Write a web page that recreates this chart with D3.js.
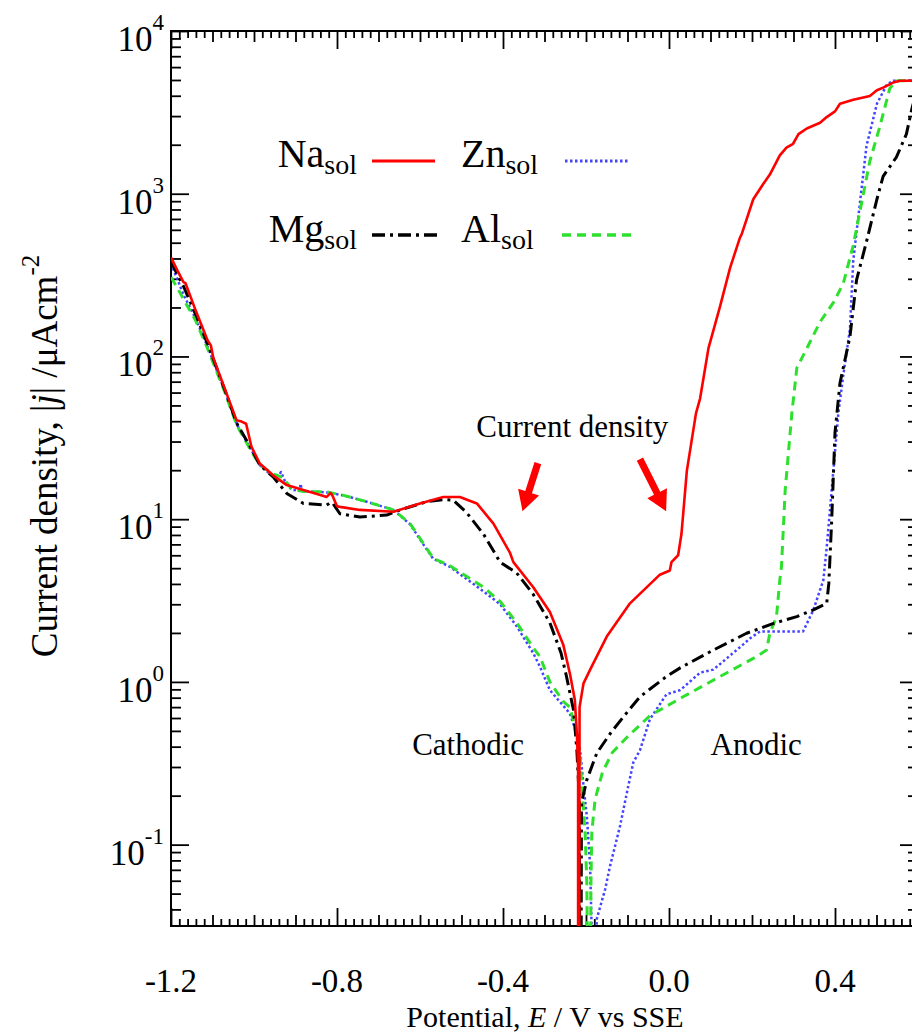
<!DOCTYPE html>
<html><head><meta charset="utf-8">
<script src="https://cdn.jsdelivr.net/npm/d3@7/dist/d3.min.js"></script>
<style>
body{margin:0;background:#fff}
text{font-family:"Liberation Serif","Times New Roman",serif;fill:#000}
</style>
</head><body>
<svg id="c" width="912" height="1035"></svg>
<script>
// ---- data: potential E (V vs SSE) and |j| (uA/cm2) ----
const naE = [-1.200,-1.185,-1.170,-1.165,-1.140,-1.112,-1.104,-1.098,-1.070,-1.042,-1.030,-1.019,-1.006,-0.986,-0.954,-0.921,-0.881,-0.840,-0.825,-0.815,-0.810,-0.800,-0.793,-0.745,-0.664,-0.600,-0.544,-0.504,-0.463,-0.423,-0.383,-0.375,-0.327,-0.287,-0.255,-0.239,-0.227,-0.222,-0.219,-0.219,
  -0.2165,-0.2155,-0.206,-0.190,-0.150,-0.094,-0.022,0.002,0.006,0.022,0.030,0.043,0.065,0.075,0.095,0.123,0.147,0.171,0.175,0.203,0.227,0.243,0.267,0.283,0.299,0.312,0.332,0.364,0.380,0.400,0.412,0.444,0.484,0.501,0.516,0.540,0.557,0.600];
const naJ = [406,339,286,282,190,126,117,98,63,40.5,39.8,38.6,27.8,22.0,18.6,16.2,15.1,14.1,13.7,14.5,13.8,12.0,11.9,11.4,11.1,12.5,13.7,13.7,12.5,9.4,6.2,5.45,3.82,2.69,1.70,1.13,0.78,0.48,0.3,0.01,
  0.01,0.70,0.98,1.19,1.90,3.04,4.56,4.84,5.45,6.0,8.1,19.8,44.7,55.3,112,203,349,538,562,925,1148,1312,1722,1919,2028,2323,2518,2729,2958,3206,3573,3776,3990,4325,4487,4819,4943,4943];

const mgE = [-1.200,-1.170,-1.140,-1.112,-1.070,-1.042,-1.006,-0.986,-0.954,-0.921,-0.881,-0.825,-0.815,-0.810,-0.793,-0.745,-0.680,-0.648,-0.584,-0.544,-0.520,-0.488,-0.447,-0.407,-0.367,-0.327,-0.287,-0.260,-0.247,-0.230,-0.222,-0.216,-0.215,
  -0.212,-0.211,-0.198,-0.174,-0.142,-0.110,-0.070,-0.006,0.027,0.075,0.107,0.187,0.252,0.308,0.348,0.380,0.385,0.392,0.400,0.412,0.436,0.452,0.476,0.501,0.516,0.548,0.572,0.586,0.600];
const mgJ = [380,270,180,120,62,39,27,21.5,18.2,14.4,12.5,12.2,12.7,12.5,10.8,10.3,10.6,11.4,12.8,13.2,13.1,11.0,8.1,5.45,4.67,3.45,2.31,1.5,1.08,0.67,0.38,0.19,0.01,
  0.01,0.18,0.25,0.365,0.48,0.61,0.81,1.08,1.22,1.42,1.57,1.99,2.29,2.52,2.77,3.04,4.0,9.8,34,68.7,132,296,509,925,1279,1679,2323,3388,4467];

const znE = [-1.200,-1.185,-1.170,-1.140,-1.112,-1.070,-1.042,-1.006,-0.986,-0.960,-0.940,-0.935,-0.925,-0.910,-0.890,-0.888,-0.884,-0.825,-0.784,-0.728,-0.664,-0.624,-0.592,-0.568,-0.528,-0.447,-0.407,-0.367,-0.327,-0.311,-0.287,-0.239,-0.222,-0.214,-0.206,-0.198,-0.190,-0.182,
  -0.178,-0.174,-0.154,-0.142,-0.118,-0.098,-0.086,-0.070,-0.046,-0.006,0.027,0.075,0.107,0.179,0.195,0.219,0.323,0.348,0.372,0.380,0.396,0.408,0.420,0.436,0.444,0.460,0.476,0.501,0.525,0.541,0.600];
const znJ = [372,300,240,170,115,61,38.5,26.5,21.5,18.8,18.6,19.5,17.0,15.2,14.9,16.5,14.9,14.6,14.0,12.8,11.4,9.3,7.0,5.7,5.1,3.6,3.0,2.2,1.5,1.24,0.89,0.64,0.48,0.38,0.23,0.15,0.074,0.01,
  0.01,0.035,0.053,0.074,0.13,0.23,0.32,0.38,0.59,0.84,0.89,1.14,1.19,1.70,1.85,2.04,2.04,2.77,4.23,6.7,19.8,44.7,76.7,147,389,875,1972,3573,4688,4943,4943];

const alE = [-1.200,-1.185,-1.170,-1.140,-1.112,-1.070,-1.042,-1.006,-0.986,-0.954,-0.930,-0.910,-0.881,-0.825,-0.784,-0.728,-0.664,-0.624,-0.592,-0.568,-0.528,-0.447,-0.407,-0.367,-0.327,-0.311,-0.287,-0.255,-0.239,-0.222,-0.214,-0.210,-0.202,-0.198,-0.195,
  -0.190,-0.188,-0.186,-0.178,-0.160,-0.136,-0.100,-0.046,0.034,0.123,0.211,0.235,0.243,0.259,0.267,0.271,0.280,0.288,0.296,0.308,0.332,0.364,0.396,0.420,0.444,0.464,0.484,0.508,0.532,0.548,0.600];
const alJ = [307,265,225,165,112,60,38,26,21.5,19.0,18.0,15.4,14.8,14.7,14.0,12.8,11.4,9.4,7.1,5.74,5.18,3.82,3.12,2.31,1.62,1.43,1.0,0.76,0.70,0.48,0.35,0.23,0.117,0.058,0.01,
  0.01,0.06,0.12,0.19,0.28,0.37,0.46,0.62,0.81,1.08,1.43,1.57,1.99,2.51,4.23,5.1,15.1,26,44.7,85,112,163,214,281,482,875,1589,2582,4436,4943,4943];

const seriesNames = ["Na","Mg","Zn","Al"];
const xMajorTicks = [-1.2,-0.8,-0.4,0.0,0.4];
const yMajorTicks = [0.1,1,10,100,1000,10000];
const yExponents = [-1,0,1,2,3,4];

// ---- scales ----
const svg = d3.select('#c');
const x = d3.scaleLinear().domain([-1.2,0.6]).range([171,918]);
const y = d3.scaleLog().domain([Math.pow(10,-1.5),1e4]).range([926,31]);

const idx = d3.range(-60,31);
const xMid = idx.filter(i=>i%5===0 && i%20!==0).map(i=>i/50);
const xMinor = idx.filter(i=>i%5!==0).map(i=>i/50);
const yMinor = [];
for (let n=-2;n<=3;n++) for (let k=2;k<=9;k++){const v=k*Math.pow(10,n); if(v>=Math.pow(10,-1.5)&&v<1e4) yMinor.push(v);}

function tickAxis(gen, tr){
  const g = svg.append('g').attr('transform',tr).call(gen);
  g.select('.domain').remove(); g.selectAll('text').remove();
  g.selectAll('line').attr('stroke','#000').attr('stroke-width',1.8);
}
[[xMajorTicks,18],[xMid,11],[xMinor,7]].forEach(([v,s])=>{
  tickAxis(d3.axisBottom(x).tickValues(v).tickSize(-s),'translate(0,926)');
  tickAxis(d3.axisTop(x).tickValues(v).tickSize(-s),'translate(0,31)');
});
[[yMajorTicks,18],[yMinor,10]].forEach(([v,s])=>{
  tickAxis(d3.axisLeft(y).tickValues(v).tickSize(-s),'translate(171,0)');
  tickAxis(d3.axisRight(y).tickValues(v).tickSize(-s),'translate(918,0)');
});
svg.append('rect').attr('x',171).attr('y',31).attr('width',747).attr('height',895)
  .attr('fill','none').attr('stroke','#000').attr('stroke-width',2);

// tick labels
svg.selectAll('.xl').data(xMajorTicks).enter().append('text')
  .attr('x',d=>x(d)).attr('y',992).attr('text-anchor','middle').attr('font-size',33)
  .text(d=>d.toFixed(1));
const yl = svg.selectAll('.yl').data(yMajorTicks).enter().append('text')
  .attr('x',164).attr('y',d=>y(d)+20).attr('text-anchor','end').attr('font-size',35);
yl.append('tspan').text('10');
yl.append('tspan').attr('font-size',23).attr('dy',-21).text((d,i)=>yExponents[i]);

// axis titles
const xt = svg.append('text').attr('x',545).attr('y',1027).attr('text-anchor','middle').attr('font-size',30);
xt.append('tspan').text('Potential, ');
xt.append('tspan').attr('font-style','italic').text('E');
xt.append('tspan').text(' / V vs SSE');
const yt = svg.append('text').attr('transform','translate(57,456) rotate(-90)').attr('text-anchor','middle').attr('font-size',37);
yt.append('tspan').text('Current density, |');
yt.append('tspan').attr('font-style','italic').text('j');
yt.append('tspan').text('| /\u03bcAcm');
yt.append('tspan').attr('font-size',25).attr('dy',-18).text('-2');

// curves
svg.append('clipPath').attr('id','clip').append('rect').attr('x',171).attr('y',31).attr('width',747).attr('height',895);
const line = d3.line().x(d=>x(d[0])).y(d=>y(d[1]));
const styles = {
  Na:{E:naE,J:naJ,color:'#ff0000',dash:null,w:2.6},
  Mg:{E:mgE,J:mgJ,color:'#000000',dash:'13,5,3,5',w:3},
  Zn:{E:znE,J:znJ,color:'#4444ff',dash:'2.5,2.5',w:2.5},
  Al:{E:alE,J:alJ,color:'#2ee02e',dash:'9,6',w:3}
};
const drawOrder = ["Zn","Al","Mg","Na"];
const cg = svg.append('g').attr('clip-path','url(#clip)');
drawOrder.forEach(n=>{
  const s = styles[n];
  const pts = s.E.map((e,i)=>[e,s.J[i]]);
  cg.append('path').attr('d',line(pts)).attr('fill','none').attr('stroke',s.color)
    .attr('stroke-width',s.w).attr('stroke-dasharray',s.dash).attr('stroke-linejoin','round');
});

// legend
const legend = [
  {n:'Na',tx:357,ty:167,anchor:'end',lx1:372,lx2:435,ly:161},
  {n:'Zn',tx:461,ty:167,anchor:'start',lx1:565,lx2:630,ly:161},
  {n:'Mg',tx:357,ty:242,anchor:'end',lx1:372,lx2:437,ly:235},
  {n:'Al',tx:461,ty:242,anchor:'start',lx1:562,lx2:637,ly:235}
];
legend.forEach(l=>{
  const s = styles[l.n];
  const t = svg.append('text').attr('x',l.tx).attr('y',l.ty).attr('text-anchor',l.anchor).attr('font-size',40);
  t.append('tspan').text(l.n);
  t.append('tspan').attr('font-size',28).attr('dy',7).text('sol');
  svg.append('line').attr('x1',l.lx1).attr('x2',l.lx2).attr('y1',l.ly).attr('y2',l.ly)
    .attr('stroke',s.color).attr('stroke-width',s.w+0.5).attr('stroke-dasharray',s.dash);
});

// annotations
const annTexts = [{t:'Current density',E:-0.233,j:32},{t:'Cathodic',E:-0.484,j:0.355},{t:'Anodic',E:0.210,j:0.355}];
svg.selectAll('.ann').data(annTexts).enter().append('text')
  .attr('x',d=>x(d.E)).attr('y',d=>y(d.j)).attr('text-anchor','middle').attr('font-size',31).text(d=>d.t);
const arrows = [{E1:-0.316,j1:22.1,E2:-0.353,j2:11.2},{E1:-0.070,j1:23.4,E2:-0.007,j2:11.2}];
arrows.forEach(a=>{
  const x1=x(a.E1),y1=y(a.j1),x2=x(a.E2),y2=y(a.j2);
  const L=Math.hypot(x2-x1,y2-y1), ux=(x2-x1)/L, uy=(y2-y1)/L, px=-uy, py=ux;
  const hl=20, hw=11, sw=3.5;
  const bx=x2-ux*hl, by=y2-uy*hl;
  const p=[[x1+px*sw,y1+py*sw],[bx+px*sw,by+py*sw],[bx+px*hw,by+py*hw],[x2,y2],[bx-px*hw,by-py*hw],[bx-px*sw,by-py*sw],[x1-px*sw,y1-py*sw]];
  svg.append('polygon').attr('points',p.map(q=>q.join(',')).join(' ')).attr('fill','#ff0000');
});
</script>
</body></html>
